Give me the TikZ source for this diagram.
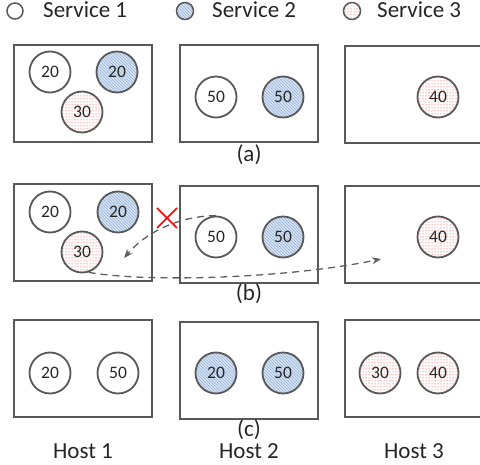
\documentclass[tikz,border=0pt]{standalone}
\usepackage{fontspec}
\setmainfont{Carlito}
\usetikzlibrary{patterns,arrows.meta}
\definecolor{edge}{HTML}{595959}
\definecolor{bluebg}{HTML}{D6E2F2}
\definecolor{bluestripe}{HTML}{96B4DC}
\definecolor{reddot}{HTML}{FF2A2A}
\definecolor{arrowgray}{HTML}{5F5F5F}
\begin{document}
\begin{tikzpicture}[x=1pt,y=-1pt,
  hostbox/.style={draw=edge, line width=2pt, minimum width=138pt, minimum height=97pt, inner sep=0pt},
  svc/.style={circle, draw=edge, line width=1.8pt, minimum size=41pt, inner sep=0pt,
    font=\fontsize{17.5}{19}\selectfont, text=black!85},
  sone/.style={svc, fill=white},
  stwo/.style={svc, preaction={fill=bluebg}, pattern=north west lines, pattern color=bluestripe},
  sthree/.style={svc, preaction={fill=white}, pattern=dots, pattern color=reddot},
  legtext/.style={font=\fontsize{23}{26}\selectfont, text=black!85, inner sep=0pt, anchor=west},
  lbl/.style={font=\fontsize{23}{26}\selectfont, text=black!85, inner sep=0pt},
  mig/.style={draw=arrowgray, line width=1.3pt, dash pattern=on 7pt off 5pt, -{Stealth[length=9pt,width=7pt]}}
]
\useasboundingbox (0,0) rectangle (480,465);
% legend
\node[sone, minimum size=16pt, line width=1.5pt] (l1) at (15,11) {};
\node[legtext] (t1) at (43,10) {Service 1};
\node[stwo, minimum size=17pt, line width=1.5pt] (l2) at (185,11) {};
\node[legtext] (t2) at (212,10) {Service 2};
\node[sthree, minimum size=17pt, line width=1.5pt] (l3) at (352,11) {};
\node[legtext] (t3) at (377,10) {Service 3};

% row a
\node[hostbox] (ha1) at (83,93.5) {};
\node[hostbox] (ha2) at (249,93.5) {};
\node[hostbox] (ha3) at (414,94.5) {};
\node[sone] (a11) at (50,72) {20};
\node[stwo] (a12) at (117,72) {20};
\node[sthree] (a13) at (82,112) {30};
\node[sone] (a21) at (216,97) {50};
\node[stwo] (a22) at (283,97) {50};
\node[sthree] (a31) at (438,97) {40};
\node[lbl] (la) at (249,155) {(a)};

% row b
\node[hostbox] (hb1) at (83,233) {};
\node[hostbox] (hb2) at (249,234.5) {};
\node[hostbox] (hb3) at (414,234.5) {};
\node[sone] (b11) at (50,212) {20};
\node[stwo] (b12) at (118,212) {20};
\node[sthree] (b13) at (82,252) {30};
\node[sone] (b21) at (216,237) {50};
\node[stwo] (b22) at (283,237) {50};
\node[sthree] (b31) at (438,237) {40};
\node[lbl] (lb) at (249,294) {(b)};
\coordinate (tgt3) at (381,259);
\coordinate (tgt1) at (124,258);
\draw[mig] (b13.-72) .. controls (150,283) and (290,278) .. (tgt3);
\draw[mig] (b21.north) .. controls (185,216) and (150,228) .. (tgt1);
\coordinate (xc) at (167,218);
\draw[red, line width=1.6pt] ([shift={(-10,-10)}]xc) -- ([shift={(10,10)}]xc);
\draw[red, line width=1.6pt] ([shift={(10,-10)}]xc) -- ([shift={(-10,10)}]xc);

% row c
\node[hostbox] (hc1) at (83,368.5) {};
\node[hostbox] (hc2) at (249,370.5) {};
\node[hostbox] (hc3) at (414,369) {};
\node[sone] (c11) at (50,373) {20};
\node[sone] (c12) at (118,373) {50};
\node[stwo] (c21) at (216,373) {20};
\node[stwo] (c22) at (283,373) {50};
\node[sthree] (c31) at (380,373) {30};
\node[sthree] (c32) at (438,373) {40};
\node[lbl] (lc) at (249,430) {(c)};

% host labels
\node[lbl] (h1) at (83,451) {Host 1};
\node[lbl] (h2) at (249,451) {Host 2};
\node[lbl] (h3) at (414,451) {Host 3};
\end{tikzpicture}
\end{document}
